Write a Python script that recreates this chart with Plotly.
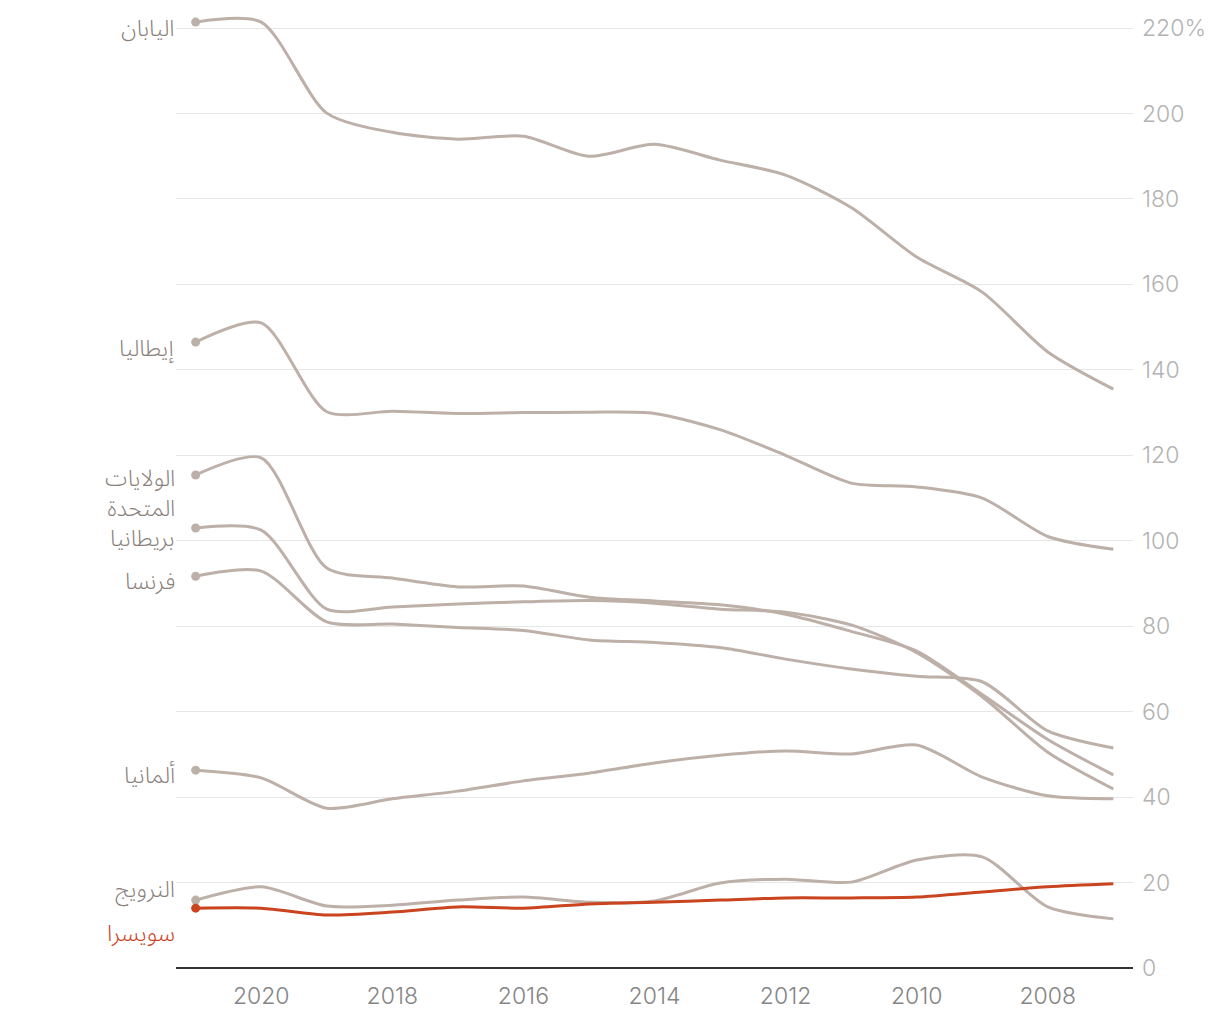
import plotly.graph_objects as go

years = list(range(2021, 2006, -1))

japan = [221.4, 221.4, 200.1, 195.6, 194.0, 194.7, 190.0, 192.8, 189.1, 185.6, 178.0, 166.4, 158.2, 144.2, 135.5]
italy = [146.5, 151.0, 130.2, 130.3, 129.8, 130.0, 130.1, 129.8, 126.0, 120.0, 113.5, 112.6, 110.0, 101.0, 98.0]
usa = [115.4, 119.4, 93.6, 91.3, 89.2, 89.4, 86.8, 85.9, 85.0, 82.8, 78.8, 74.2, 64.0, 53.5, 45.2]
uk = [103.0, 102.5, 84.0, 84.5, 85.2, 85.7, 86.0, 85.4, 84.0, 83.3, 80.3, 73.8, 63.5, 50.5, 41.9]
france = [91.7, 92.9, 81.0, 80.5, 79.7, 79.0, 76.8, 76.2, 75.0, 72.3, 70.0, 68.3, 67.0, 55.5, 51.5]
germany = [46.3, 44.5, 37.4, 39.6, 41.4, 43.8, 45.6, 48.0, 49.8, 50.8, 50.1, 52.2, 44.7, 40.3, 39.6]
norway = [15.9, 19.0, 14.5, 14.7, 15.9, 16.6, 15.4, 15.7, 19.9, 20.8, 20.1, 25.3, 26.0, 14.3, 11.5]
switzerland = [14.0, 14.0, 12.4, 13.1, 14.3, 14.0, 15.0, 15.4, 15.9, 16.4, 16.4, 16.6, 17.8, 19.0, 19.7]

names = ["اليابان", "إيطاليا", "الولايات<br>المتحدة", "بريطانيا", "فرنسا", "ألمانيا", "النرويج", "سويسرا"]
series = [japan, italy, usa, uk, france, germany, norway, switzerland]
label_shift = [-6, -6, -19, -11, -5, -5, 11, -25]

y_ticks = [0, 20, 40, 60, 80, 100, 120, 140, 160, 180, 200, 220]
y_ticktext = [str(v) for v in y_ticks[:-1]] + ["220%"]
x_ticks = [2020, 2018, 2016, 2014, 2012, 2010, 2008]

GREY = "#bdb0a8"
RED = "#c9441f"
LABEL_GREY = "#8a807b"
AR_FONT = "Noto Sans Arabic, DejaVu Sans, sans-serif"
TICK_FONT = "Inter, Roboto, sans-serif"

fig = go.Figure()
for i, (name, vals) in enumerate(zip(names, series)):
    color = RED if i == len(series) - 1 else GREY
    fig.add_trace(go.Scatter(
        x=years, y=vals, mode="lines",
        line=dict(color=color, width=3, shape="spline", smoothing=0.75),
        hoverinfo="skip", showlegend=False,
    ))
    fig.add_trace(go.Scatter(
        x=[years[0]], y=[vals[0]], mode="markers",
        marker=dict(color=color, size=9),
        hoverinfo="skip", showlegend=False,
    ))
    fig.add_annotation(
        x=years[0], y=vals[0], xref="x", yref="y",
        text=name, showarrow=False, xanchor="right", yanchor="middle",
        xshift=-19, yshift=label_shift[i], align="right",
        font=dict(family=AR_FONT, size=23, weight=300,
                  color=RED if i == len(series) - 1 else LABEL_GREY),
    )

fig.update_layout(
    width=1212, height=1012,
    margin=dict(l=168, r=87, t=3, b=52),
    plot_bgcolor="white", paper_bgcolor="white",
    font=dict(family=TICK_FONT),
)
fig.update_xaxes(
    range=[2021.3, 2006.7], tickvals=x_ticks, ticks="", showgrid=False,
    showline=False, zeroline=False, ticklabelstandoff=12,
    tickfont=dict(family=TICK_FONT, size=23, weight=300, color="#858585"),
)
fig.update_yaxes(
    range=[0, 224], side="right", tickvals=y_ticks, ticktext=y_ticktext,
    showgrid=True, gridcolor="#e6e6e6", gridwidth=1, ticks="",
    zeroline=True, zerolinecolor="#333333", zerolinewidth=2,
    ticklabelstandoff=8,
    tickfont=dict(family=TICK_FONT, size=23, weight=300, color="#b3b3b3"),
)

fig.write_html("out.html")
